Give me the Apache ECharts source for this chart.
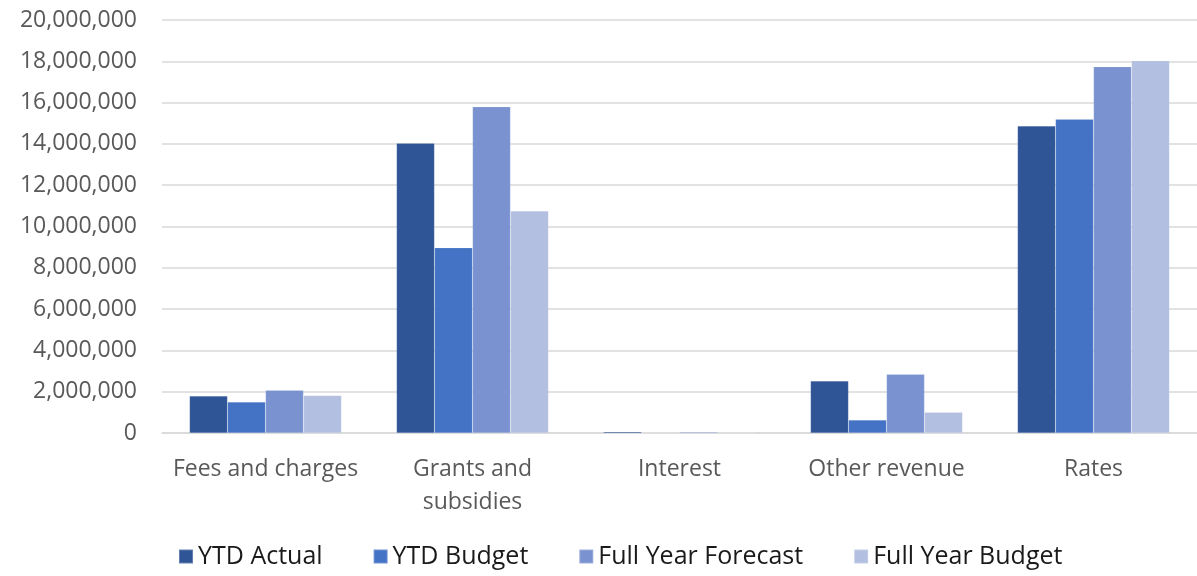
<!DOCTYPE html>
<html>
<head>
<meta charset="utf-8">
<script src="https://cdn.jsdelivr.net/npm/echarts@6/dist/echarts.min.js"></script>
<style>
    html, body { margin: 0; padding: 0; background: #fff; }
    #chart { width: 1197px; height: 576px; }
</style>
</head>
<body>
<div id="chart"></div>
<script>
// categories and series
const categories = ['Fees and charges', 'Grants and\nsubsidies', 'Interest', 'Other revenue', 'Rates'];
const ytdActual = [1790000, 14030000, 60000, 2520000, 14870000];
const ytdBudget = [1500000, 8970000, 0, 630000, 15190000];
const fullYearForecast = [2070000, 15800000, 50000, 2840000, 17740000];
const fullYearBudget = [1810000, 10750000, 0, 1000000, 18030000];
const seriesNames = ['YTD Actual', 'YTD Budget', 'Full Year Forecast', 'Full Year Budget'];
const colors = ['#2F5597', '#4472C4', '#7A93D0', '#B3BFE0'];

const font = '"Open Sans", sans-serif';

const myChart = echarts.init(document.getElementById('chart'));

const makeSeries = (name, data, idx) => ({
    name: name,
    type: 'bar',
    data: data,
    barWidth: 38,
    barGap: '0%',
    itemStyle: {
        color: colors[idx],
        borderColor: 'rgba(255,255,255,0.25)',
        borderWidth: 0.5,
    },
});

const option = {
    animation: false,
    color: colors,
    grid: {
        left: 162,
        right: 0,
        top: 20,
        bottom: 143,
        containLabel: false,
    },
    legend: {
        bottom: 2,
        left: 173,
        itemWidth: 14,
        itemHeight: 14,
        itemGap: 50,
        icon: 'rect',
        textStyle: {
            color: '#1a1a1a',
            fontSize: 25,
            fontFamily: font,
        },
        data: seriesNames,
    },
    xAxis: {
        type: 'category',
        data: categories,
        axisLine: { lineStyle: { color: '#d9d9d9', width: 1.5 } },
        axisTick: { show: false },
        axisLabel: {
            interval: 0,
            color: '#595959',
            fontSize: 23,
            fontFamily: font,
            margin: 20,
            lineHeight: 33,
        },
    },
    yAxis: {
        type: 'value',
        min: 0,
        max: 20000000,
        interval: 2000000,
        axisLine: { show: false },
        axisTick: { show: false },
        splitLine: { lineStyle: { color: '#d9d9d9', width: 1.5 } },
        axisLabel: {
            color: '#595959',
            fontSize: 23,
            fontFamily: font,
            margin: 25,
            formatter: (v) => v.toLocaleString('en-US'),
        },
    },
    series: [
        makeSeries(seriesNames[0], ytdActual, 0),
        makeSeries(seriesNames[1], ytdBudget, 1),
        makeSeries(seriesNames[2], fullYearForecast, 2),
        makeSeries(seriesNames[3], fullYearBudget, 3),
    ],
};

myChart.setOption(option);
</script>
</body>
</html>
